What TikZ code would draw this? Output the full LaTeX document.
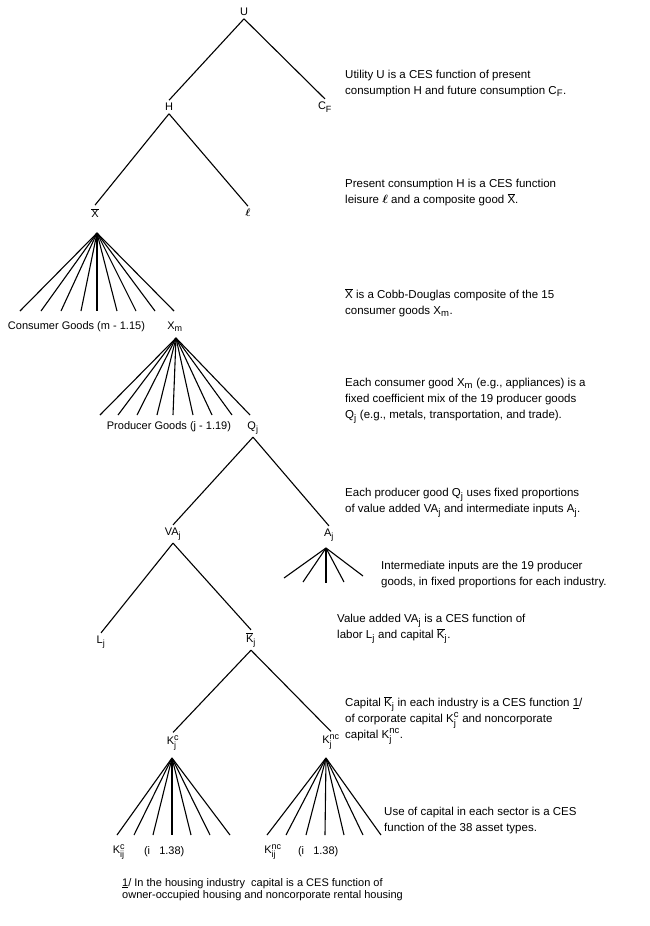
\documentclass[tikz,border=0pt]{standalone}
\usepackage{amsmath}
\usepackage{fontspec}
\setmainfont{Liberation Sans}
\usetikzlibrary{positioning}
\DeclareMathSizes{11}{11}{9}{7}
\DeclareMathSizes{11.5}{11.5}{9.5}{7.5}

\tikzset{
  lbl/.style={inner sep=1pt, outer sep=2pt, font=\fontsize{11}{12}\selectfont},
  note/.style={anchor=north west, align=left, inner sep=0pt, font=\fontsize{11.5}{16}\selectfont},
  branch/.style={line width=1.1pt},
}

\begin{document}
\begin{tikzpicture}[x=1pt,y=-1pt]
\useasboundingbox (0,0) rectangle (649,926);

% upper part of the tree
\node[lbl] (U) at (244,12) {U};
\node[lbl] (H) at (169,107) {H};
\node[lbl] (CF) at (325,107) {$\text{C}_{\text{F}}$};
\node[lbl] (xbar) at (95,213) {$\overline{\text{X}}$};
\node[lbl] (leis) at (248,213) {$\boldsymbol{\ell}$};

\draw[branch] (U.south) -- (H.north);
\draw[branch] (U.south) -- (CF.north);
\draw[branch] (H.south) -- (xbar.north);
\draw[branch] (H.south) -- (leis.north);

% consumer goods
\coordinate (xfan) at (97,233);
\foreach \x [count=\i] in {20,41,61,81,97,117,136,155,174}
  {\coordinate (cg\i) at (\x,311);
   \draw[branch] (xfan) -- (cg\i);}
\node[lbl, anchor=west] (cgoods) at (5,327) {Consumer Goods (m - 1.15)};
\node[lbl] (xm) at (175,327) {$\text{X}_{\text{m}}$};

% producer goods
\coordinate (mfan) at (176,338);
\foreach \x [count=\i] in {100,118,137,157,173,193,212,232,250}
  {\coordinate (pg\i) at (\x,415);
   \draw[branch] (mfan) -- (pg\i);}
\node[lbl, anchor=east] (pgoods) at (234,427) {Producer Goods (j - 1.19)};
\node[lbl] (Q) at (253,428) {$\text{Q}_{\text{j}}$};

% value added and intermediate inputs
\node[lbl] (VA) at (173,534) {$\text{VA}_{\text{j}}$};
\node[lbl] (A) at (329,535) {$\text{A}_{\text{j}}$};
\draw[branch] (Q.south) -- (VA.north);
\draw[branch] (Q.south) -- (A.north);

\coordinate (afan) at (326,548);
\foreach \x/\y [count=\i] in {284/578,303/582,344/582,363/576}
  {\coordinate (ai\i) at (\x,\y);
   \draw[branch] (afan) -- (ai\i);}
\coordinate (ai5) at (326,583);
\draw[line width=2.2pt] (afan) -- (ai5);

% labor and capital
\node[lbl] (L) at (101,642) {$\text{L}_{\text{j}}$};
\node[lbl] (Kbar) at (251,640) {$\overline{\text{K}}_{\text{j}}$};
\draw[branch] (VA.south) -- (L.north);
\draw[branch] (VA.south) -- (Kbar.north);

\node[lbl] (Kc) at (173,743) {$\text{K}^{\text{c}}_{\text{j}}$};
\node[lbl] (Knc) at (331,742) {$\text{K}^{\text{nc}}_{\text{j}}$};
\draw[branch] (Kbar.south) -- (Kc.north);
\draw[branch] (Kbar.south) -- (Knc.north);

% asset types
\coordinate (cfan) at (172,758);
\foreach \x [count=\i] in {117,134,153,172,191,210,230}
  {\coordinate (ca\i) at (\x,835);
   \draw[branch] (cfan) -- (ca\i);}
\coordinate (nfan) at (326,758);
\foreach \x [count=\i] in {267,286,306,325,344,363,381}
  {\coordinate (na\i) at (\x,835);
   \draw[branch] (nfan) -- (na\i);}
\node[lbl] (Kcij) at (119,852) {$\text{K}^{\text{c}}_{\text{ij}}$};
\node[lbl, anchor=west] (crange) at (141,852) {(i\ \ \ 1.38)};
\node[lbl] (Kncij) at (273,852) {$\text{K}^{\text{nc}}_{\text{ij}}$};
\node[lbl, anchor=west] (nrange) at (295,852) {(i\ \ \ 1.38)};

% explanations
\node[note] (t1) at (345,70) {Utility U is a CES function of present\\
  consumption H and future consumption $\text{C}_{\text{F}}$.};
\node[note] (t2) at (345,179) {Present consumption H is a CES function\\
  leisure $\boldsymbol{\ell}$ and a composite good $\overline{\text{X}}$.};
\node[note] (t3) at (345,288) {$\overline{\text{X}}$ is a Cobb-Douglas composite of the 15\\
  consumer goods $\text{X}_{\text{m}}$.};
\node[note] (t4) at (345,378) {Each consumer good $\text{X}_{\text{m}}$ (e.g., appliances) is a\\
  fixed coefficient mix of the 19 producer goods\\
  $\text{Q}_{\text{j}}$ (e.g., metals, transportation, and trade).};
\node[note] (t5) at (345,488) {Each producer good $\text{Q}_{\text{j}}$ uses fixed proportions\\
  of value added $\text{VA}_{\text{j}}$ and intermediate inputs $\text{A}_{\text{j}}$.};
\node[note] (t6) at (381,561) {Intermediate inputs are the 19 producer\\
  goods, in fixed proportions for each industry.};
\node[note] (t7) at (337,614) {Value added $\text{VA}_{\text{j}}$ is a CES function of\\
  labor $\text{L}_{\text{j}}$ and capital $\overline{\text{K}}_{\text{j}}$.};
\node[note] (t8) at (345,696) {Capital $\overline{\text{K}}_{\text{j}}$ in each industry is a CES function \underline{1}/\\
  of corporate capital $\text{K}^{\text{c}}_{\text{j}}$ and noncorporate\\
  capital $\text{K}^{\text{nc}}_{\text{j}}$.};
\node[note] (t9) at (384,807) {Use of capital in each sector is a CES\\
  function of the 38 asset types.};

% footnote
\node[note, font=\fontsize{11}{12.5}\selectfont] (foot) at (122,878) {\underline{1}/ In the housing industry\ \ capital is a CES function of\\
  owner-occupied housing and noncorporate rental housing};
\end{tikzpicture}
\end{document}
